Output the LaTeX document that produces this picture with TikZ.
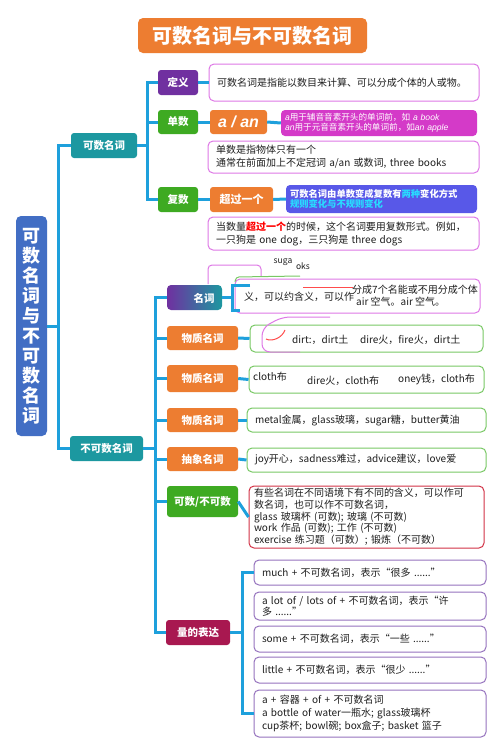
\documentclass[tikz,border=0pt]{standalone}
\usepackage{fontspec}
\setmainfont{Noto Sans CJK SC}
\newfontfamily\lsans{Liberation Sans}
\definecolor{ora}{RGB}{237,125,49}
\definecolor{rootb}{RGB}{66,110,196}
\definecolor{teal1}{RGB}{28,152,160}
\definecolor{purp}{RGB}{112,48,160}
\definecolor{grn}{RGB}{62,170,34}
\definecolor{crim}{RGB}{168,24,80}
\definecolor{cn}{RGB}{30,160,220}
\definecolor{mag}{RGB}{212,58,200}
\definecolor{bv}{RGB}{88,88,232}
\definecolor{pinkb}{RGB}{222,120,230}
\definecolor{greenb}{RGB}{120,200,100}
\definecolor{redb}{RGB}{210,50,70}
\definecolor{purb}{RGB}{150,115,190}
\definecolor{cyanT}{RGB}{40,220,255}
\definecolor{txt}{RGB}{30,30,30}
\begin{document}
\begin{tikzpicture}[x=1pt,y=-1pt,
  lab/.style={rounded corners=3pt, text=white, font=\fontsize{10.5}{12}\selectfont\bfseries, inner sep=0pt},
  cbox/.style={draw, rounded corners=5pt, line width=1pt, fill=white, inner xsep=8pt, inner ysep=0pt, align=left, font=\fontsize{10}{13}\selectfont, text=txt},
  tx/.style={inner sep=0pt, anchor=west, font=\fontsize{10}{13}\selectfont, text=txt},
  conn/.style={draw=cn, line width=3pt}]
\fill[white] (0,0) rectangle (500,748);
\useasboundingbox (0,0) rectangle (500,748);
% title and root
\node[lab, fill=ora, minimum width=229pt, minimum height=35pt, rounded corners=5pt, font=\fontsize{20}{24}\selectfont\bfseries] (title) at (252.5,35.5) {可数名词与不可数名词};
\node[lab, fill=rootb, minimum width=31pt, minimum height=220pt, rounded corners=5pt, align=center, font=\fontsize{18}{20}\selectfont\bfseries] (root) at (31.5,326) {可\\数\\名\\词\\与\\不\\可\\数\\名\\词};
% level 1
\node[lab, fill=teal1, minimum width=66pt, minimum height=25pt] (kesh) at (104,145.5) {可数名词};
\node[lab, fill=teal1, minimum width=73pt, minimum height=25pt] (bukesh) at (106.5,448.5) {不可数名词};
% countable
\node[lab, fill=purp, minimum width=40pt, minimum height=25pt] (dingyi) at (178,82.5) {定义};
\node[lab, fill=grn, minimum width=40pt, minimum height=24pt] (danshu) at (178,122) {单数};
\node[lab, fill=grn, minimum width=40pt, minimum height=25pt] (fushu) at (178,199.5) {复数};
\node[lab, fill=ora, minimum width=57pt, minimum height=24pt, font=\fontsize{16}{18}\lsans\bfseries\itshape] (aan) at (238.5,122) {a / an};
\node[lab, fill=ora, minimum width=63pt, minimum height=25pt, font=\fontsize{11}{13}\selectfont\bfseries] (cgyg) at (241.5,199.5) {超过一个};
\node[cbox, draw=pinkb, minimum width=266pt, minimum height=37pt, text width=254pt] (dybox) at (344,82.5) {可数名词是指能以数目来计算、可以分成个体的人或物。};
\node[rounded corners=4pt, fill=mag, minimum width=196pt, minimum height=26pt, text width=188pt, inner xsep=4pt, inner ysep=0pt, align=left, text=white, font=\fontsize{8.6}{10.2}\selectfont] (magbox) at (379,123) {{\lsans\itshape a}用于辅音音素开头的单词前，如 {\lsans\itshape a book}\\{\lsans\itshape an}用于元音音素开头的单词前，如{\lsans\itshape an apple}};
\node[cbox, draw=pinkb, minimum width=267pt, minimum height=32pt, text width=255pt] (dsbox) at (343.5,157) {单数是指物体只有一个\\通常在前面加上不定冠词 a/an 或数词, three books};
\node[rounded corners=4pt, fill=bv, minimum width=191pt, minimum height=28pt, text width=183pt, inner xsep=4pt, inner ysep=0pt, align=left, text=white, font=\fontsize{9.3}{10.5}\selectfont\bfseries] (bluebox) at (381.5,199) {可数名词由单数变成复数有\textcolor{cyanT}{两种}变化方式\\\textcolor{cyanT}{规则变化与不规则变化}};
\node[cbox, draw=pinkb, minimum width=267pt, minimum height=33pt, text width=255pt] (fsbox) at (343.5,233.5) {当数量\textcolor{red}{\bfseries 超过一个}的时候，这个名词要用复数形式。例如，\\一只狗是 one dog，三只狗是 three dogs};
% uncountable children
\node[rounded corners=4pt, left color=purp, right color=teal1, minimum width=55pt, minimum height=25pt, inner sep=0pt] (mingci) at (194.5,297.5) {};
\node[inner sep=0pt, text=white, font=\fontsize{10.5}{12}\selectfont\bfseries] (mingcit) at (204,298) {名词};
\node[lab, fill=ora, minimum width=71pt, minimum height=24pt] (wz1) at (202.5,338) {物质名词};
\node[lab, fill=ora, minimum width=71pt, minimum height=27pt] (wz2) at (202.5,378.5) {物质名词};
\node[lab, fill=ora, minimum width=71pt, minimum height=24pt] (wz3) at (202.5,420) {物质名词};
\node[lab, fill=ora, minimum width=71pt, minimum height=24pt] (cx) at (202.5,459) {抽象名词};
\node[lab, fill=grn, minimum width=71pt, minimum height=31pt] (kbk) at (202.5,501.5) {可数/不可数};
\node[lab, fill=crim, minimum width=64pt, minimum height=25pt] (liang) at (198,632.5) {量的表达};
% glitch artifacts
\draw[pinkb, line width=1pt, rounded corners=4pt] (208,284) -- (208,265) -- (261,265) -- (261,276);
\node[inner sep=0pt, font=\fontsize{8.5}{9}\selectfont, text=txt] (suga) at (283,262) {suga};
\node[inner sep=0pt, font=\fontsize{8.5}{9}\selectfont, text=txt] (oks) at (303,266) {oks};
\node[cbox, draw=pinkb, minimum width=245pt, minimum height=34pt] (glitch) at (357.5,296) {};
\draw[greenb, line width=1pt, rounded corners=3pt] (235,282) -- (236,277) -- (300,276);
\draw[red!70, line width=1pt] (303,287) -- (353,287);
\node[tx] (g1) at (244,297) {义，可以约含义，可以作};
\node[tx] (g2) at (352,290) {分成7个名能或不用分成个体};
\node[tx] (g3) at (356,302) {air 空气。air 空气。};
\node[cbox, draw=greenb, minimum width=233pt, minimum height=27pt] (dirt) at (366.5,338.5) {};
\draw[pinkb, line width=1pt, rounded corners=8pt] (330,317) -- (282,317) -- (262,328) -- (262,352) -- (300,352);
\draw[red!70, line width=1pt] (266,339) .. controls (272,342) and (282,338) .. (285,330);
\node[tx] (d1) at (292,340) {dirt:，dirt土};
\node[tx] (d2) at (360,340) {dire火，fire火，dirt土};
\node[cbox, draw=greenb, minimum width=235pt, minimum height=27pt] (cloth) at (366.5,379.5) {};
\node[tx] (c1) at (253,377) {cloth布};
\node[tx] (c2) at (307,381) {dire火，cloth布};
\node[tx] (c3) at (398,379) {oney钱，cloth布};
\node[cbox, draw=greenb, minimum width=235pt, minimum height=24pt, text width=223pt] (metal) at (366.5,420) {metal金属，glass玻璃，sugar糖，butter黄油};
\node[cbox, draw=greenb, minimum width=235pt, minimum height=24pt, text width=223pt] (joy) at (366.5,460) {joy开心，sadness难过，advice建议，love爱};
\node[cbox, draw=redb, minimum width=235pt, minimum height=62pt, text width=225pt, inner xsep=5pt, font=\fontsize{10}{11.7}\selectfont] (kbkbox) at (366.5,517) {有些名词在不同语境下有不同的含义，可以作可\\数名词，也可以作不可数名词，\\glass 玻璃杯 (可数); 玻璃 (不可数)\\work 作品 (可数); 工作 (不可数)\\exercise 练习题（可数）; 锻炼（不可数）};
\node[cbox, draw=purb, minimum width=228pt, minimum height=25pt, text width=216pt] (much) at (370,572.5) {much + 不可数名词，表示“很多 ......”};
\node[cbox, draw=purb, minimum width=228pt, minimum height=28pt, text width=216pt, font=\fontsize{10}{11.5}\selectfont] (lot) at (370,606) {a lot of / lots of + 不可数名词，表示“许\\多 ......”};
\node[cbox, draw=purb, minimum width=228pt, minimum height=26pt, text width=216pt] (some) at (370,639) {some + 不可数名词，表示“一些 ......”};
\node[cbox, draw=purb, minimum width=228pt, minimum height=26pt, text width=216pt] (little) at (370,670) {little + 不可数名词，表示“很少 ......”};
\node[cbox, draw=purb, minimum width=228pt, minimum height=47pt, text width=216pt, font=\fontsize{10}{12.8}\selectfont] (last) at (370,713.5) {a + 容器 + of + 不可数名词\\a bottle of water一瓶水; glass玻璃杯\\cup茶杯; bowl碗; box盒子; basket 篮子};
% connectors
\coordinate (v1) at (58,326);
\coordinate (v2) at (147,145.5);
\coordinate (v3) at (155,448.5);
\coordinate (v4) at (242,632.5);
\coordinate (gv) at (232,297.5);
\draw[conn] (root.east) -- (v1);
\draw[conn] (kesh.west) -| (v1);
\draw[conn] (bukesh.west) -| (v1);
\draw[conn] (kesh.east) -- (v2);
\draw[conn] (dingyi.west) -| (v2);
\draw[conn] (danshu.west) -| (v2);
\draw[conn] (fushu.west) -| (v2);
\draw[conn] (dingyi.east) -- (dybox.west);
\draw[conn] (danshu.east) -- (aan.west);
\draw[conn] (aan.east) -- (magbox.west);
\draw[conn] (fushu.east) -- (cgyg.west);
\draw[conn] (cgyg.east) -- (bluebox.west);
\draw[conn] (bukesh.east) -- (v3);
\foreach \n in {mingci,wz1,wz2,wz3,cx,kbk,liang} \draw[conn] (\n.west) -| (v3);
\draw[conn] (mingci.east) -- (gv);
\draw[conn] (250,285) -| (232,310) -- (240,310);
\draw[conn] (wz1.east) -- (dirt.west);
\draw[conn] (wz2.east) -- (cloth.west);
\draw[conn] (wz3.east) -- (metal.west);
\draw[conn] (cx.east) -- (joy.west);
\draw[conn] (kbk.east) -- (kbkbox.west);
\draw[conn] (liang.east) -- (v4);
\draw[conn] (much.west) -| (v4);
\draw[conn] (last.west) -| (v4);
\end{tikzpicture}
\end{document}
